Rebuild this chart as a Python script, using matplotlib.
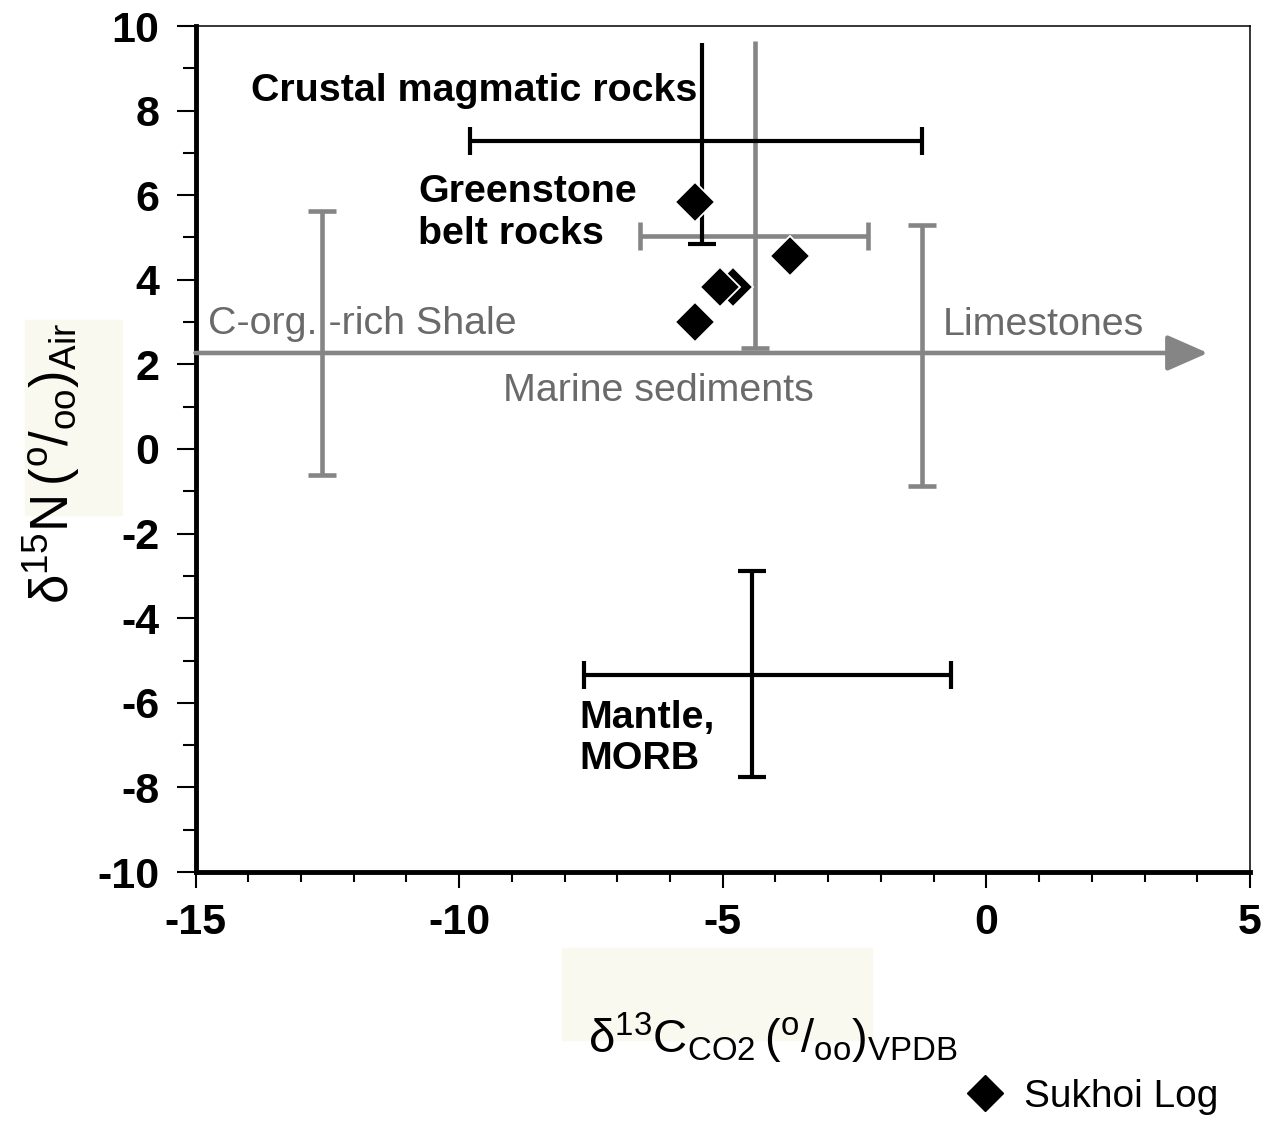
import matplotlib
matplotlib.use("Agg")
import matplotlib.pyplot as plt
from matplotlib import font_manager
from matplotlib.lines import Line2D
from matplotlib.patches import Rectangle

plt.rcParams['font.family'] = ['Liberation Sans', 'DejaVu Sans']
plt.rcParams['axes.unicode_minus'] = False
plt.rcParams['mathtext.default'] = 'regular'

# Sukhoi Log samples: d13C (CO2, VPDB) vs d15N (air)
sample_c13 = [-5.52, -3.72, -4.80, -5.05, -5.52]
sample_n15 = [5.84, 4.56, 3.83, 3.83, 3.00]

# Crustal magmatic rocks (black cross, no cap on top)
crustal_c13 = [-9.79, -1.22]
crustal_c13_at = 7.28
crustal_n15 = [9.60, 4.85]
crustal_n15_at = -5.39

# Greenstone belt rocks (grey cross, no cap on top)
greenstone_c13 = [-6.56, -2.24]
greenstone_c13_at = 5.04
greenstone_n15 = [9.65, 2.39]
greenstone_n15_at = -4.38

# Mantle, MORB (black cross)
mantle_c13 = [-7.64, -0.67]
mantle_c13_at = -5.34
mantle_n15 = [-2.88, -7.75]
mantle_n15_at = -4.44

# Marine sediments: shale / limestone ranges and the trend arrow
shale_n15 = [5.63, -0.61]
shale_n15_at = -12.61
limestone_n15 = [5.30, -0.87]
limestone_n15_at = -1.22
marine_c13 = [-15.0, 4.2]
marine_n15_at = 2.27

x_ticks = [-15, -10, -5, 0, 5]
y_ticks = [-10, -8, -6, -4, -2, 0, 2, 4, 6, 8, 10]

BLACK = 'black'
GREY = '#858585'
GREY_TEXT = '#6a6a6a'
CAP = 19.5

# axis titles are set in a narrow face when one is available
installed = {f.name for f in font_manager.fontManager.ttflist}
if 'Liberation Sans Narrow' in installed:
    title_family, title_scale = 'Liberation Sans Narrow', 1.2
else:
    title_family, title_scale = 'Liberation Sans', 1.0


def hrange(ax, xs, y, color, lw):
    ax.plot(xs, [y, y], color=color, lw=lw, solid_capstyle='butt', zorder=2)
    ax.plot(xs, [y, y], ls='none', marker='|', ms=CAP, mew=lw, color=color, zorder=2)


def vrange(ax, ys, x, color, lw, top_cap=True):
    ax.plot([x, x], ys, color=color, lw=lw, solid_capstyle='butt', zorder=2)
    ends = ys if top_cap else ys[1:]
    ax.plot([x] * len(ends), ends, ls='none', marker='_', ms=CAP, mew=lw,
            color=color, zorder=2)


fig = plt.figure(figsize=(12.8, 11.24), dpi=100)
ax = fig.add_axes([195.5 / 1280, 1 - 872 / 1124, 1054.5 / 1280, 846 / 1124])

# marine sediment trend
ax.annotate('', xy=(marine_c13[1], marine_n15_at), xytext=(marine_c13[0], marine_n15_at),
            arrowprops=dict(arrowstyle='-|>,head_length=1.25,head_width=0.55',
                            mutation_scale=20, lw=3.3, color=GREY,
                            shrinkA=0, shrinkB=0))
vrange(ax, shale_n15, shale_n15_at, GREY, 3.3)
vrange(ax, limestone_n15, limestone_n15_at, GREY, 3.3)

hrange(ax, greenstone_c13, greenstone_c13_at, GREY, 3.3)
vrange(ax, greenstone_n15, greenstone_n15_at, GREY, 3.3, top_cap=False)

hrange(ax, crustal_c13, crustal_c13_at, BLACK, 3.0)
vrange(ax, crustal_n15, crustal_n15_at, BLACK, 3.0, top_cap=False)

hrange(ax, mantle_c13, mantle_c13_at, BLACK, 3.0)
vrange(ax, mantle_n15, mantle_n15_at, BLACK, 3.0)

ax.plot(sample_c13, sample_n15, ls='none', marker='D', ms=20, mfc=BLACK,
        mec='white', mew=1.3, zorder=4)

# field labels (multi-line ones are anchored on their last line)
bold = dict(fontsize=28.4, fontweight='bold', color=BLACK, va='baseline', linespacing=1.2)
plain = dict(fontsize=28.4, color=GREY_TEXT, va='baseline')
ax.text(-13.95, 8.23, 'Crustal magmatic rocks', **bold)
ax.text(-10.78, 4.85, 'Greenstone\nbelt rocks', **bold)
ax.text(-7.72, -7.57, 'Mantle,\nMORB', **bold)
ax.text(-14.76, 2.72, 'C-org. -rich Shale', **plain)
ax.text(-0.835, 2.70, 'Limestones', **plain)
ax.text(-9.165, 1.135, 'Marine sediments', **plain)

ax.set_xlim(-15, 5)
ax.set_ylim(-10, 10)
ax.set_xticks(x_ticks)
ax.set_xticks(range(-15, 6), minor=True)
ax.set_yticks(y_ticks)
ax.set_yticks(range(-10, 11), minor=True)
ax.set_xticklabels([str(t) for t in x_ticks], fontsize=31, fontweight='bold')
ax.set_yticklabels([str(t) for t in y_ticks], fontsize=31, fontweight='bold')
ax.tick_params(axis='both', which='both', direction='out', width=1.5,
               top=False, right=False)
ax.tick_params(axis='y', which='major', length=14, pad=12)
ax.tick_params(axis='y', which='minor', length=9.5)
ax.tick_params(axis='x', which='major', length=11.5, pad=11)
ax.tick_params(axis='x', which='minor', length=7)

for side in ('left', 'bottom'):
    ax.spines[side].set_linewidth(3.5)
for side in ('top', 'right'):
    ax.spines[side].set_linewidth(1.1)

# pale panels behind the axis titles
fig.add_artist(Rectangle((25 / 1280, 1 - 515 / 1124), 97 / 1280, 195 / 1124,
                         transform=fig.transFigure, color='#f9f9ef', zorder=0))
fig.add_artist(Rectangle((562 / 1280, 1 - 1040 / 1124), 310 / 1280, 92 / 1124,
                         transform=fig.transFigure, color='#f9f9ef', zorder=0))

fig.text(773 / 1280, 1 - 1038 / 1124,
         r'$\delta^{13}C_{CO2}\,(^{o}/_{oo})_{VPDB}$',
         family=title_family, fontsize=34 * title_scale,
         ha='center', va='center', zorder=3)
fig.text(52 / 1280, 1 - 463 / 1124,
         r'$\delta^{15}N\,(^{o}/_{oo})_{Air}$',
         family=title_family, fontsize=38 * title_scale, rotation=90,
         ha='center', va='center', zorder=3)

handle = Line2D([], [], ls='none', marker='D', ms=18, color=BLACK)
fig.legend(handles=[handle], labels=['Sukhoi Log'], loc='center left',
           bbox_to_anchor=(966 / 1280, 1 - 1097 / 1124), frameon=False,
           fontsize=28, handlelength=1.0, handletextpad=0.5,
           borderpad=0, borderaxespad=0)

fig.savefig('out.png', dpi=100)
